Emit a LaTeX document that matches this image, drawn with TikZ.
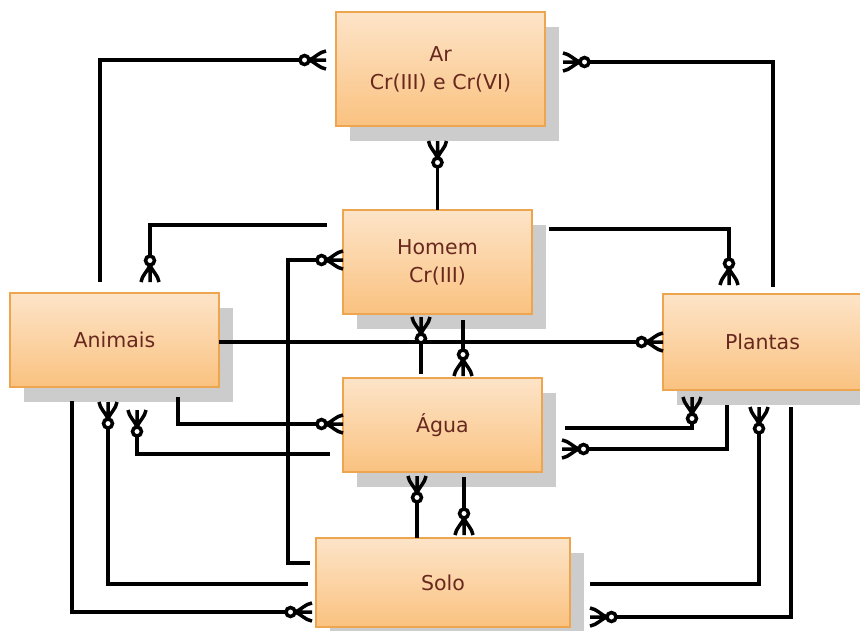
\documentclass[tikz,border=0pt]{standalone}
\usepackage{fontspec}
\setmainfont{DejaVu Sans}
\usetikzlibrary{backgrounds,arrows.meta}

\definecolor{boxtop}{RGB}{253,228,200}
\definecolor{boxbot}{RGB}{250,194,128}
\definecolor{boxline}{RGB}{238,165,80}
\definecolor{labeltext}{RGB}{105,40,30}
\definecolor{shadowgray}{RGB}{204,204,204}

% Crow's foot with an open circle: "zero or many"
\pgfdeclarearrow{
  name = ZeroMany,
  setup code = {
    \pgfarrowssettipend{0pt}
    \pgfarrowssetbackend{-28pt}
    \pgfarrowssetlineend{-23pt}
    \pgfarrowsupperhullpoint{0pt}{10pt}
    \pgfarrowsupperhullpoint{-28pt}{6pt}
  },
  drawing code = {
    \pgfsetdash{}{0pt}
    \pgfpathmoveto{\pgfpoint{-17pt}{0pt}}
    \pgfpathcurveto{\pgfpoint{-11pt}{2pt}}{\pgfpoint{-7pt}{8pt}}{\pgfpoint{0pt}{9pt}}
    \pgfpathmoveto{\pgfpoint{-17pt}{0pt}}
    \pgfpathcurveto{\pgfpoint{-11pt}{-2pt}}{\pgfpoint{-7pt}{-8pt}}{\pgfpoint{0pt}{-9pt}}
    \pgfpathmoveto{\pgfpoint{0pt}{0pt}}
    \pgfpathlineto{\pgfpoint{-17pt}{0pt}}
    \pgfusepathqstroke
    \pgfsetfillcolor{white}
    \pgfpathcircle{\pgfpoint{-21.5pt}{0pt}}{4.5pt}
    \pgfusepathqfillstroke
  }
}

\tikzset{
  entity/.style={draw=boxline, line width=2.6pt, top color=boxtop, bottom color=boxbot,
    inner sep=0pt, outer sep=0pt, text=labeltext, align=center,
    font=\fontsize{20.5}{28}\selectfont},
  rel/.style={line width=3.5pt, draw=black},
  tomany/.style={rel, -{ZeroMany}},
}

\begin{document}
\begin{tikzpicture}[x=1pt, y=-1pt]
\useasboundingbox (0,0) rectangle (860,630);

% entities
\node[entity, minimum width=209pt, minimum height=114pt] (Ar) at (440.5,69) {Ar\\Cr(III) e Cr(VI)};
\node[entity, minimum width=189pt, minimum height=104pt] (Homem) at (437.5,262) {Homem\\Cr(III)};
\node[entity, minimum width=209pt, minimum height=94pt] (Animais) at (114.5,340) {Animais};
\node[entity, minimum width=199pt, minimum height=96pt] (Plantas) at (762.5,342) {Plantas};
\node[entity, minimum width=199pt, minimum height=94pt] (Agua) at (442.5,425) {Água};
\node[entity, minimum width=254pt, minimum height=89pt] (Solo) at (443,582.5) {Solo};

% drop shadows
\begin{scope}[on background layer]
  \foreach \n in {Ar,Homem,Animais,Plantas,Agua,Solo}
    \fill[shadowgray] ([shift={(14,15)}]\n.north west) rectangle ([shift={(14,15)}]\n.south east);
\end{scope}

% relationships
\draw[tomany] ([shift={(-14.5,-11)}]Animais.north) |- ([shift={(-10,-9)}]Ar.west);
\draw[tomany] ([shift={(10.5,-7)}]Plantas.north) |- ([shift={(18,-7)}]Ar.east);
\draw[tomany] (Homem.north) -- ([shift={(-3,15)}]Ar.south);

\draw[tomany] ([shift={(-16,-37)}]Homem.west) -| ([shift={(35.5,-11)}]Animais.north);
\draw[tomany] ([shift={(17,-33)}]Homem.east) -| ([shift={(-33.5,-9)}]Plantas.north);
\draw[tomany] ([shift={(-6,-19.5)}]Solo.west) -- ++(-22,0) |- ([shift={(0,-2)}]Homem.west);
\draw[tomany] ([shift={(0,2)}]Animais.east) -- (Plantas.west);

\draw[tomany] ([shift={(-21.5,-4)}]Agua.north) -- ([shift={(-16.5,3)}]Homem.south);
\draw[tomany] ([shift={(25.5,6)}]Homem.south) -- ([shift={(20.5,-2)}]Agua.north);

\draw[tomany] ([shift={(63.5,10)}]Animais.south) |- ([shift={(0,-1)}]Agua.west);
\draw[tomany] ([shift={(-13,29)}]Agua.west) -| ([shift={(22.5,23)}]Animais.south);
\draw[tomany] ([shift={(-8,1.5)}]Solo.west) -| ([shift={(-6.5,15)}]Animais.south);
\draw[tomany] ([shift={(-42.5,14)}]Animais.south) |- ([shift={(-4,29.5)}]Solo.west);

\draw[tomany] ([shift={(-26,0)}]Solo.north) -- ([shift={(-25.5,4)}]Agua.south);
\draw[tomany] ([shift={(21.5,5)}]Agua.south) -- ([shift={(21,-3)}]Solo.north);

\draw[tomany] ([shift={(23,3)}]Agua.east) -| ([shift={(-70.5,7)}]Plantas.south);
\draw[tomany] ([shift={(-35.5,15)}]Plantas.south) |- ([shift={(20,24)}]Agua.east);
\draw[tomany] ([shift={(20,1.5)}]Solo.east) -| ([shift={(-3.5,17)}]Plantas.south);
\draw[tomany] ([shift={(28.5,17)}]Plantas.south) |- ([shift={(20,34.5)}]Solo.east);
\end{tikzpicture}
\end{document}
